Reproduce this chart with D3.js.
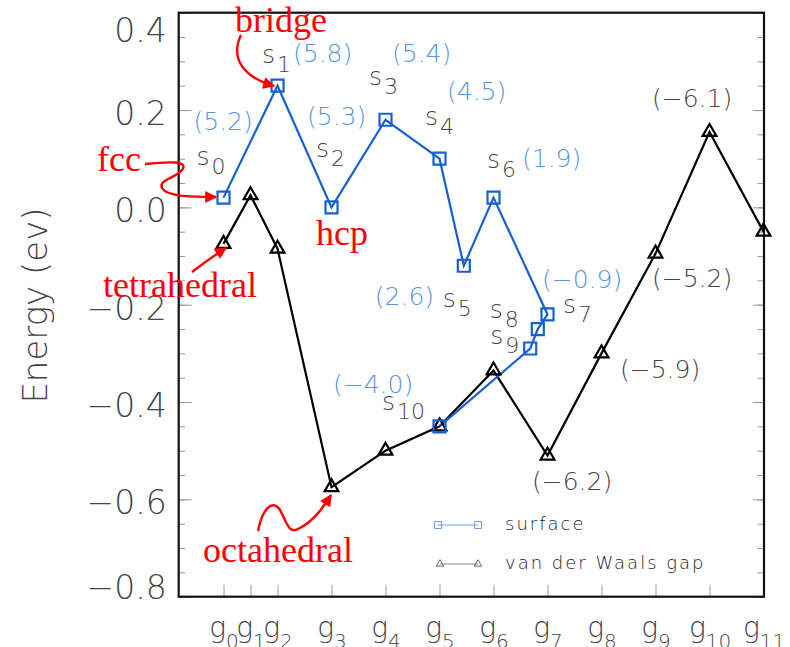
<!DOCTYPE html>
<html>
<head>
<meta charset="utf-8">
<script src="https://cdn.jsdelivr.net/npm/d3@7"></script>
<style>
  body { margin: 0; background: #fff; }
  svg { display: block; }
  .thin { font-family: "DejaVu Sans", "Noto Sans", sans-serif; font-weight: 200; }
  .note { font-family: "Liberation Serif", "Times New Roman", serif; fill: #ff0000; font-size: 36px; }
</style>
</head>
<body>
<svg id="chart" width="790" height="647"></svg>
<script>
// Sites in the van der Waals gap, g0 .. g11, along the path coordinate
const gapSites  = ["0","1","2","3","4","5","6","7","8","9","10","11"];
const gapCoord  = [1, 1.5, 2, 3, 4, 5, 6, 7, 8, 9, 10, 11];
const gapEnergy = [-0.075, 0.025, -0.085, -0.575, -0.50, -0.45, -0.335, -0.51, -0.30, -0.095, 0.155, -0.05];
const gapCharge = [null, null, null, null, null, null, null, "−6.2", "−5.9", "−5.2", "−6.1", null];

// Surface sites s0 .. s10
const surfSites  = ["0","1","2","3","4","5","6","7","8","9","10"];
const surfCoord  = [1, 2, 3, 4, 5, 5.45, 6, 7, 6.82, 6.68, 5];
const surfEnergy = [0.02, 0.25, 0.0, 0.18, 0.10, -0.12, 0.02, -0.22, -0.25, -0.29, -0.45];
const surfCharge = ["5.2", "5.8", "5.3", "5.4", "4.5", "2.6", "1.9", "−0.9", null, null, "−4.0"];

// Axis ticks
const yMajor = [-0.8, -0.6, -0.4, -0.2, 0.0, 0.2, 0.4];
const yMinor = d3.range(-0.8, 0.4001, 0.05);
const seriesNames = ["surface", "van der Waals gap"];
const yTitle = "Energy (ev)";

// ---- layout ----
const frame = { left: 178.7, right: 764, top: 12.7, bottom: 596.7 };
const x = d3.scaleLinear().domain([0.17, 11]).range([frame.left, 763.5]);
const y = d3.scaleLinear().domain([-0.8, 0.4]).range([frame.bottom, frame.top]);

const blue = "#1660d2", blueText = "#5596e0", grayText = "#444";

// label offsets (px from the marker) for names and charges
const surfNameOff = [[-27,-33],[-15.5,-23],[-15.5,-50],[-16.5,-35],[-14.5,-34],[-21,41],[-6.5,-30],[15.5,-1],[-48,-11],[-40,-5],[-57.5,-16]];
const surfChargeOff = [[-30,-68],[15.5,-24],[-24.5,-82],[6.5,-58],[7.5,-59],[-89,39],[28.5,-31],[-5.5,-26],null,null,[-106.5,-33]];
const gapChargeOff = [null,null,null,null,null,null,null,[-15.5,34.5],[18.5,25],[-3.5,33.5],[-57.5,-25],null];

const svg = d3.select("#chart");

// ---- ticks ----
function styleTicks(g) {
  g.select(".domain").remove();
  g.selectAll(".tick line").attr("stroke", "#999").attr("stroke-width", 1);
}
svg.append("g").attr("transform", `translate(${frame.left},0)`)
  .call(d3.axisLeft(y).tickValues(yMinor).tickSize(-6.5).tickFormat(""))
  .call(styleTicks);
svg.append("g").attr("transform", `translate(${frame.right},0)`)
  .call(d3.axisRight(y).tickValues(yMinor).tickSize(-6.5).tickFormat(""))
  .call(styleTicks);
svg.append("g").attr("transform", `translate(${frame.right},0)`)
  .call(d3.axisRight(y).tickValues(yMajor).tickSize(-11).tickFormat(""))
  .call(styleTicks);

const yAxisG = svg.append("g").attr("transform", `translate(${frame.left},0)`)
  .call(d3.axisLeft(y).tickValues(yMajor).tickSize(-13).tickPadding(12).tickFormat(d3.format(".1f")))
  .call(styleTicks);
yAxisG.selectAll(".tick text")
  .attr("class", "thin")
  .attr("font-size", 33)
  .attr("fill", grayText)
  .attr("dy", d => d === 0.4 ? 29 : d === -0.8 ? 1.6 : 14.5);

const xAxisG = svg.append("g").attr("transform", `translate(0,${frame.bottom})`)
  .call(d3.axisBottom(x).tickValues(gapCoord).tickSize(-12).tickPadding(0).tickFormat(""))
  .call(styleTicks);
xAxisG.selectAll(".tick text")
  .attr("class", "thin")
  .attr("fill", grayText)
  .attr("font-size", 28)
  .attr("y", 40.5).attr("dy", 0)
  .each(function(d, i) {
    const t = d3.select(this);
    t.append("tspan").text("g");
    t.append("tspan").attr("font-size", 20).attr("dy", 11).text(gapSites[i]);
  });

// ---- y title ----
svg.append("text").attr("class", "thin")
  .attr("transform", "translate(47,305.5) rotate(-90)")
  .attr("text-anchor", "middle")
  .attr("font-size", 34)
  .attr("fill", grayText)
  .text(yTitle);

// ---- frame ----
svg.append("rect")
  .attr("x", frame.left).attr("y", frame.top)
  .attr("width", frame.right - frame.left).attr("height", frame.bottom - frame.top)
  .attr("fill", "none").attr("stroke", "#111").attr("stroke-width", 2.2);

// ---- series ----
const surfData = surfCoord.map((c, i) => ({ c, e: surfEnergy[i], i }));
const gapData  = gapCoord.map((c, i) => ({ c, e: gapEnergy[i], i }));
const line = d3.line().x(d => x(d.c)).y(d => y(d.e));

svg.append("path").datum(gapData).attr("d", line)
  .attr("fill", "none").attr("stroke", "#000").attr("stroke-width", 2.2);
svg.append("path").datum(surfData).attr("d", line)
  .attr("fill", "none").attr("stroke", blue).attr("stroke-width", 2.2);

const tri = d3.symbol(d3.symbolTriangle, 82);
const sq = d3.symbol(d3.symbolSquare, 144);

svg.append("g").selectAll("path").data(gapData).join("path")
  .attr("d", tri).attr("transform", d => `translate(${x(d.c)},${y(d.e)})`)
  .attr("fill", "none").attr("stroke", "#000").attr("stroke-width", 2.2);
svg.append("g").selectAll("path").data(surfData).join("path")
  .attr("d", sq).attr("transform", d => `translate(${x(d.c)},${y(d.e)})`)
  .attr("fill", "none").attr("stroke", blue).attr("stroke-width", 2.2);

// ---- point labels ----
const nameG = svg.append("g").attr("class", "thin").attr("fill", grayText);
surfData.forEach(d => {
  const [dx, dy] = surfNameOff[d.i];
  const t = nameG.append("text")
    .attr("x", x(d.c) + dx).attr("y", y(d.e) + dy).attr("font-size", 25);
  t.append("tspan").text("s");
  t.append("tspan").attr("font-size", 22).attr("dx", 2).attr("dy", 9).text(surfSites[d.i]);
});
surfData.forEach(d => {
  if (!surfCharge[d.i]) return;
  const [dx, dy] = surfChargeOff[d.i];
  svg.append("text").attr("class", "thin")
    .attr("x", x(d.c) + dx).attr("y", y(d.e) + dy)
    .attr("font-size", 25).attr("fill", blueText)
    .text(`(${surfCharge[d.i]})`);
});
gapData.forEach(d => {
  if (!gapCharge[d.i]) return;
  const [dx, dy] = gapChargeOff[d.i];
  svg.append("text").attr("class", "thin")
    .attr("x", x(d.c) + dx).attr("y", y(d.e) + dy)
    .attr("font-size", 25).attr("fill", grayText)
    .text(`(${gapCharge[d.i]})`);
});

// ---- legend ----
const leg = svg.append("g");
leg.append("line").attr("x1", 438).attr("x2", 478).attr("y1", 525).attr("y2", 525)
  .attr("stroke", "#6f9fe2").attr("stroke-width", 1);
[438, 478].forEach(px => leg.append("path")
  .attr("d", d3.symbol(d3.symbolSquare, 49)).attr("transform", `translate(${px},525)`)
  .attr("fill", "none").attr("stroke", "#6f9fe2").attr("stroke-width", 1));
leg.append("line").attr("x1", 440).attr("x2", 478).attr("y1", 564).attr("y2", 564)
  .attr("stroke", "#888").attr("stroke-width", 1);
[440, 478].forEach(px => leg.append("path")
  .attr("d", d3.symbol(d3.symbolTriangle, 24)).attr("transform", `translate(${px},564)`)
  .attr("fill", "none").attr("stroke", "#555").attr("stroke-width", 0.9));
leg.selectAll("text").data(seriesNames).join("text")
  .attr("class", "thin")
  .attr("x", 505).attr("y", (d, i) => i ? 569 : 530)
  .attr("font-size", 18).attr("letter-spacing", 2).attr("fill", "#222")
  .text(d => d);

// ---- site annotations ----
const defs = svg.append("defs");
defs.append("marker").attr("id", "arrow").attr("viewBox", "0 0 10 10")
  .attr("refX", 9).attr("refY", 5).attr("markerWidth", 6).attr("markerHeight", 5)
  .attr("orient", "auto").attr("markerUnits", "strokeWidth")
  .append("path").attr("d", "M0,0 L10,5 L0,10 Z").attr("fill", "#ff0000");

const notes = [
  { text: "bridge",      x: 235, y: 32 },
  { text: "fcc",         x: 97,  y: 171 },
  { text: "hcp",         x: 316, y: 245 },
  { text: "tetrahedral", x: 103, y: 297 },
  { text: "octahedral",  x: 203, y: 562 }
];
svg.selectAll("text.note").data(notes).join("text")
  .attr("class", "note").attr("x", d => d.x).attr("y", d => d.y).text(d => d.text);

const arrows = [
  "M241,35 C231,56 240,76 274,86",
  "M145,164 C165,162 190,160 182,170 C176,178 158,180 162,188 C167,197 195,197 216,197",
  "M192,272 C205,262 215,255 226,248",
  "M258,531 C262,510 272,498 280,510 C288,525 289,535 300,528 C315,520 324,506 331,495"
];
svg.append("g").selectAll("path").data(arrows).join("path")
  .attr("d", d => d).attr("fill", "none").attr("stroke", "#ff0000")
  .attr("stroke-width", 2.4).attr("marker-end", "url(#arrow)");
</script>
</body>
</html>
